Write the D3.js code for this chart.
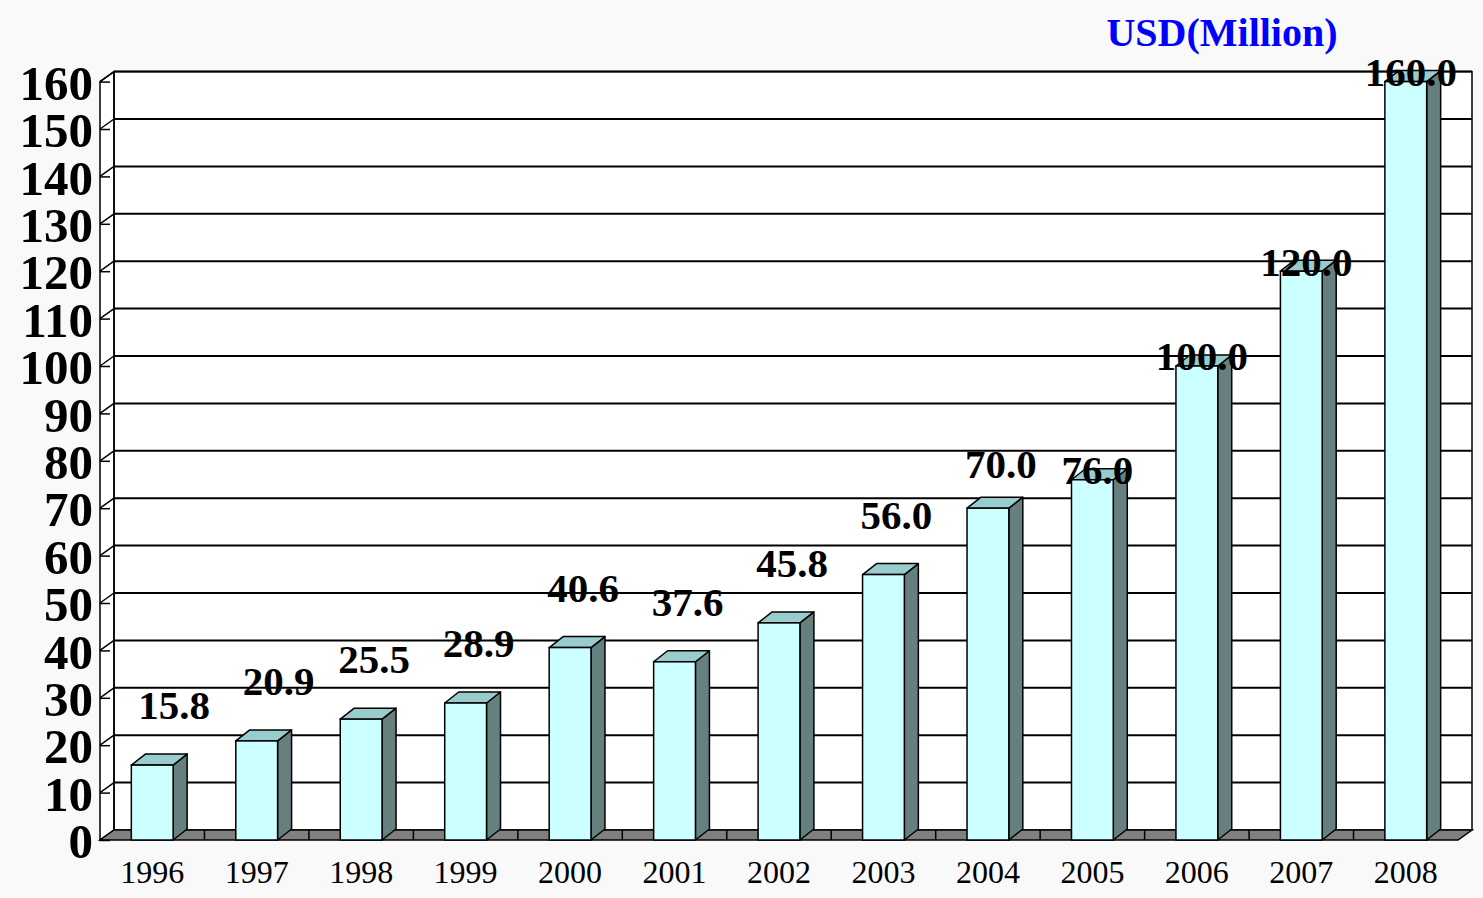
<!DOCTYPE html>
<html>
<head>
<meta charset="utf-8">
<script src="https://cdn.jsdelivr.net/npm/d3@7"></script>
<style>
  body { margin: 0; background: #f9f9f9; }
  svg { display: block; }
  text { font-family: "Liberation Serif", "Times New Roman", serif; }
</style>
</head>
<body>
<script>
var years = ['1996', '1997', '1998', '1999', '2000', '2001', '2002',
             '2003', '2004', '2005', '2006', '2007', '2008'];
var values = [15.8, 20.9, 25.5, 28.9, 40.6, 37.6, 45.8, 56.0, 70.0, 76.0, 100.0, 120.0, 160.0];
var yTicks = [0, 10, 20, 30, 40, 50, 60, 70, 80, 90, 100, 110, 120, 130, 140, 150, 160];
var unitLabel = 'USD(Million)';

var W = 1483, H = 898;
var dx = 14, dy = -10;     // depth of the walls
var bdx = 14, bdy = -11;   // depth of the bars

var svg = d3.select('body').append('svg')
  .attr('width', W)
  .attr('height', H);

var x = d3.scaleBand()
  .domain(years)
  .range([100, 1458])
  .padding(0);

var y = d3.scaleLinear()
  .domain([0, 160])
  .range([840, 81.6]);

// careful: "top" is taken by window.top
var pLeft = 100, pRight = 1458, pBottom = y(0), pTop = y(160);

// back wall
svg.append('rect')
  .attr('x', pLeft + dx).attr('y', pTop + dy)
  .attr('width', pRight - pLeft).attr('height', pBottom - pTop)
  .attr('fill', '#fff');

// left wall
svg.append('polygon')
  .attr('points', [[pLeft, pBottom], [pLeft, pTop], [pLeft + dx, pTop + dy], [pLeft + dx, pBottom + dy]].join(' '))
  .attr('fill', '#fff')
  .attr('stroke', '#000')
  .attr('stroke-width', 1.5);

// grid lines on back wall and left wall
var gridTicks = yTicks.filter(function(d) { return d > 0; });
var grid = svg.append('g');
grid.selectAll('line.back')
  .data(gridTicks)
  .enter().append('line')
  .attr('class', 'back')
  .attr('x1', pLeft + dx).attr('x2', pRight + dx)
  .attr('y1', function(d) { return y(d) + dy; })
  .attr('y2', function(d) { return y(d) + dy; })
  .attr('stroke', '#000')
  .attr('stroke-width', 2);
grid.selectAll('line.side')
  .data(gridTicks)
  .enter().append('line')
  .attr('class', 'side')
  .attr('x1', pLeft).attr('x2', pLeft + dx)
  .attr('y1', function(d) { return y(d); })
  .attr('y2', function(d) { return y(d) + dy; })
  .attr('stroke', '#000')
  .attr('stroke-width', 1.5);

// back wall border
svg.append('rect')
  .attr('x', pLeft + dx).attr('y', pTop + dy)
  .attr('width', pRight - pLeft).attr('height', pBottom - pTop)
  .attr('fill', 'none')
  .attr('stroke', '#000')
  .attr('stroke-width', 1.5);

// floor
svg.append('polygon')
  .attr('points', [[pLeft, pBottom], [pRight, pBottom], [pRight + dx, pBottom + dy], [pLeft + dx, pBottom + dy]].join(' '))
  .attr('fill', '#808080')
  .attr('stroke', '#000')
  .attr('stroke-width', 1.5);
svg.append('g').selectAll('line')
  .data(years.slice(1))
  .enter().append('line')
  .attr('x1', function(d) { return x(d); })
  .attr('x2', function(d) { return x(d); })
  .attr('y1', pBottom + dy).attr('y2', pBottom)
  .attr('stroke', '#000')
  .attr('stroke-width', 1.5);

// y axis
var yAxis = d3.axisLeft(y)
  .tickValues(yTicks)
  .tickSizeInner(-10)
  .tickSizeOuter(0)
  .tickPadding(7);

var ya = svg.append('g')
  .attr('transform', 'translate(' + pLeft + ',0)')
  .call(yAxis);
ya.select('.domain').remove();
ya.selectAll('.tick line').attr('stroke', '#000').attr('stroke-width', 1.5);
ya.selectAll('.tick text')
  .attr('fill', '#000')
  .style('font-family', '"Liberation Serif", serif')
  .style('font-size', '49px')
  .style('font-weight', 'bold')
  .attr('dy', '0.36em');

// bars
var bw = x.bandwidth() * 0.4;
function cx(d, i) { return x(years[i]) + x.bandwidth() / 2; }

var bars = svg.append('g').selectAll('g')
  .data(values)
  .enter().append('g');

bars.append('polygon')
  .attr('points', function(d, i) {
    var r = cx(d, i) + bw / 2, t = y(d);
    return [[r, pBottom], [r + bdx, pBottom + bdy], [r + bdx, t + bdy], [r, t]].join(' ');
  })
  .attr('fill', '#668080')
  .attr('stroke', '#000')
  .attr('stroke-width', 1.5)
  .attr('stroke-linejoin', 'round');

bars.append('polygon')
  .attr('points', function(d, i) {
    var l = cx(d, i) - bw / 2, r = cx(d, i) + bw / 2, t = y(d);
    return [[l, t], [l + bdx, t + bdy], [r + bdx, t + bdy], [r, t]].join(' ');
  })
  .attr('fill', '#99cccc')
  .attr('stroke', '#000')
  .attr('stroke-width', 1.5)
  .attr('stroke-linejoin', 'round');

bars.append('rect')
  .attr('x', function(d, i) { return cx(d, i) - bw / 2; })
  .attr('y', function(d) { return y(d); })
  .attr('width', bw)
  .attr('height', function(d) { return pBottom - y(d); })
  .attr('fill', '#ccffff')
  .attr('stroke', '#000')
  .attr('stroke-width', 1.5);

// value labels sit above the bars, the tall ones lie across the top
function lift(v) {
  if (v < 60) return 60;
  if (v < 75) return 45;
  return 10;
}
function shift(v) {
  if (v < 25) return 22;
  if (v < 75) return 13;
  return 5;
}
svg.append('g').selectAll('text')
  .data(values)
  .enter().append('text')
  .attr('x', function(d, i) { return cx(d, i) + shift(d); })
  .attr('y', function(d) { return y(d) - lift(d); })
  .attr('dy', '0.35em')
  .attr('text-anchor', 'middle')
  .style('font-size', '41px')
  .style('font-weight', 'bold')
  .attr('fill', '#000')
  .text(function(d) { return d.toFixed(1); });

// x labels
svg.append('g').selectAll('text')
  .data(years)
  .enter().append('text')
  .attr('x', function(d) { return x(d) + x.bandwidth() / 2; })
  .attr('y', 872)
  .attr('dy', '0.35em')
  .attr('text-anchor', 'middle')
  .style('font-size', '32px')
  .attr('fill', '#000')
  .text(function(d) { return d; });

// unit label
svg.append('text')
  .attr('x', 1222)
  .attr('y', 32)
  .attr('dy', '0.35em')
  .attr('text-anchor', 'middle')
  .style('font-size', '40px')
  .style('font-weight', 'bold')
  .attr('fill', '#0000ff')
  .text(unitLabel);
</script>
</body>
</html>
